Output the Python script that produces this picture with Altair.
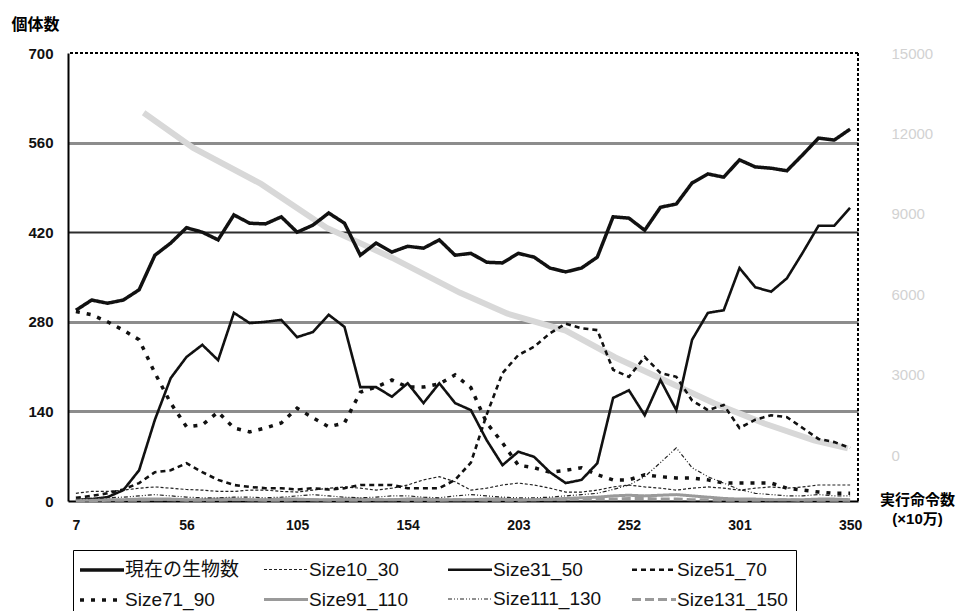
import altair as alt
import pandas as pd

# Execution step (x 10^5 instructions), one sample every 7 units
steps = list(range(7, 351, 7))

series_names = [
    "現在の生物数", "Size10_30", "Size31_50", "Size51_70",
    "Size71_90", "Size91_110", "Size111_130", "Size131_150",
]

total_count = [298, 314, 309, 314, 330, 384, 403, 427, 420, 408,
               447, 434, 433, 444, 420, 431, 450, 434, 384, 403,
               389, 398, 395, 408, 384, 387, 373, 372, 387, 381,
               364, 358, 364, 381, 444, 442, 423, 459, 464, 497,
               511, 506, 533, 522, 520, 516, 541, 567, 564, 581]
size10_30 = [12, 15, 15, 17, 20, 22, 20, 18, 17, 15,
             15, 17, 17, 15, 14, 17, 20, 22, 20, 17,
             20, 25, 33, 38, 30, 17, 20, 25, 28, 25,
             20, 14, 14, 17, 22, 25, 22, 20, 17, 20,
             22, 20, 17, 20, 22, 20, 22, 25, 25, 25]
size31_50 = [2, 3, 6, 17, 48, 127, 192, 225, 244, 220,
             294, 278, 280, 283, 256, 264, 291, 272, 178, 178,
             163, 184, 153, 184, 153, 142, 95, 56, 77, 69,
             45, 28, 33, 59, 161, 173, 134, 189, 142, 252,
             294, 298, 364, 334, 327, 348, 388, 430, 430, 458]
size51_70 = [5, 8, 12, 18, 28, 45, 48, 59, 45, 33,
             25, 22, 20, 20, 18, 20, 18, 20, 25, 25,
             25, 20, 20, 20, 33, 60, 135, 200, 228, 241,
             262, 277, 270, 267, 205, 194, 225, 200, 194, 157,
             142, 150, 114, 127, 134, 131, 114, 97, 92, 83]
size71_90 = [296, 291, 280, 267, 252, 200, 153, 116, 119, 139,
             114, 108, 114, 122, 145, 130, 116, 122, 170, 178,
             189, 178, 178, 183, 197, 177, 122, 91, 56, 52,
             45, 48, 52, 41, 33, 33, 41, 38, 36, 36,
             33, 28, 28, 28, 28, 20, 17, 14, 12, 12]
size91_110 = [1, 1, 2, 2, 3, 3, 3, 2, 2, 3,
              3, 2, 2, 3, 3, 2, 2, 3, 3, 2,
              2, 3, 3, 2, 2, 2, 3, 3, 2, 2,
              3, 4, 5, 6, 8, 9, 8, 9, 10, 8,
              6, 4, 3, 3, 2, 2, 2, 3, 3, 2]
size111_130 = [3, 4, 5, 6, 8, 10, 8, 6, 5, 5,
               6, 6, 5, 6, 8, 10, 8, 6, 5, 6,
               8, 8, 6, 5, 8, 10, 8, 6, 5, 5,
               6, 8, 10, 12, 18, 25, 38, 60, 83, 52,
               38, 28, 18, 12, 10, 8, 8, 10, 8, 8]
size131_150 = [0, 0, 1, 1, 1, 2, 2, 1, 1, 1,
               2, 2, 1, 1, 2, 2, 1, 1, 1, 2,
               2, 1, 1, 1, 2, 2, 1, 1, 1, 2,
               2, 2, 3, 3, 3, 4, 4, 3, 3, 2,
               2, 1, 1, 1, 2, 2, 1, 1, 1, 1]

# Faint secondary series on the right-hand scale
secondary_steps = [37, 59, 89, 118, 147, 177, 198, 224, 246, 268, 290, 312, 334, 349]
secondary_values = [12770, 11460, 10120, 8490, 7370, 6070, 5290, 4650,
                    3650, 2790, 1935, 1190, 560, 260]

left_ticks = [0, 140, 280, 420, 560, 700]
right_ticks = [0, 3000, 6000, 9000, 12000, 15000]
x_ticks = [7, 56, 105, 154, 203, 252, 301, 350]

all_values = [total_count, size10_30, size31_50, size51_70,
              size71_90, size91_110, size111_130, size131_150]
rows = []
for name, vals in zip(series_names, all_values):
    for s, v in zip(steps, vals):
        rows.append({"step": s, "series": name, "count": v})
df = pd.DataFrame(rows)

sec_df = pd.DataFrame({"step": secondary_steps, "value": secondary_values})

line_colors = ["#111111", "#222222", "#111111", "#111111",
               "#111111", "#9a9a9a", "#222222", "#9a9a9a"]
line_dashes = [[1, 0], [3, 2], [1, 0], [5, 4],
               [4, 7], [1, 0], [4, 2, 1, 2, 1, 2], [9, 4]]
line_widths = [3.5, 1.2, 2.6, 2.6, 3.5, 3, 1.2, 3]

FONT = "Liberation Sans, Noto Sans CJK JP, sans-serif"
x_scale = alt.Scale(domain=[3.5, 353.5], nice=False, zero=False)
y_scale = alt.Scale(domain=[0, 700], nice=False)

# Wide, short line symbols so that legend rows stay compact
legend = alt.Legend(
    title=None, orient="none", legendX=5, legendY=497,
    direction="horizontal", columns=4, gridAlign="all",
    symbolType="M-2.2,0L2.2,0", symbolSize=400, symbolOffset=9,
    labelFontSize=19, labelFont=FONT, labelColor="#111111",
    labelOffset=11, labelLimit=0, columnPadding=18, rowPadding=8,
    padding=8, strokeColor="black", fillColor="white",
)

x_axis = alt.Axis(
    values=x_ticks, format="d", grid=False, ticks=False, tickSize=0,
    labelPadding=17, labelFontSize=14, labelFontWeight="bold", labelFont=FONT,
    labelColor="#111111", domainColor="black", domainWidth=2,
    title=["実行命令数", "(×10万)"], titleX=849, titleY=-9,
    titleAlign="center", titleBaseline="top", titleFontSize=15,
    titleFontWeight="bold", titleFont=FONT, titleLineHeight=19,
)

y_axis = alt.Axis(
    values=left_ticks, grid=True, ticks=False, tickSize=0,
    labelPadding=15, labelFontSize=15, labelFontWeight="bold", labelFont=FONT,
    labelColor="#111111", domainColor="black", domainWidth=2,
    gridColor={"condition": {"test": "datum.value == 420", "value": "#2e2e2e"},
               "value": "#8c8c8c"},
    gridWidth={"condition": {"test": "datum.value == 420", "value": 2},
               "value": 3},
    gridOpacity={"condition": {"test": "datum.value == 0 || datum.value == 700",
                               "value": 0}, "value": 1},
    title="個体数", titleAngle=0, titleX=-57, titleY=-29, titleAlign="left",
    titleBaseline="middle", titleFontSize=16, titleFontWeight="bold",
    titleFont=FONT,
)

secondary = alt.Chart(sec_df).mark_line(
    color="#d8d8d8", strokeWidth=6
).encode(
    x=alt.X("step:Q", scale=x_scale, axis=x_axis),
    y=alt.Y("value:Q", scale=alt.Scale(domain=[-1700, 15000], nice=False),
            axis=alt.Axis(orient="right", values=right_ticks, format="d",
                          grid=False, ticks=False, domain=False, labelPadding=33,
                          labelFontSize=15, labelFont=FONT,
                          labelColor="#d2d2d2", title=None)),
)

lines = alt.Chart(df).mark_line().encode(
    x=alt.X("step:Q", scale=x_scale, axis=x_axis),
    y=alt.Y("count:Q", scale=y_scale, axis=y_axis),
    color=alt.Color("series:N",
                    scale=alt.Scale(domain=series_names, range=line_colors),
                    legend=legend),
    strokeDash=alt.StrokeDash("series:N",
                              scale=alt.Scale(domain=series_names, range=line_dashes),
                              legend=legend),
    strokeWidth=alt.StrokeWidth("series:N",
                                scale=alt.Scale(type="ordinal", domain=series_names,
                                                range=line_widths),
                                legend=legend),
)

top_border = alt.Chart(df).mark_rule(
    color="black", strokeWidth=1.5, strokeDash=[3, 2]
).encode(y=alt.datum(700, scale=y_scale))

right_border = alt.Chart(df).mark_rule(
    color="black", strokeWidth=1.5, strokeDash=[3, 2]
).encode(x=alt.datum(353.5, scale=x_scale))

left_layers = alt.layer(lines, top_border, right_border)

chart = alt.layer(secondary, left_layers).resolve_scale(
    y="independent"
).properties(
    width=790, height=448,
    padding={"left": 68, "top": 53, "right": 108, "bottom": 110},
    autosize=alt.AutoSizeParams(type="none"),
    background="white",
).configure_view(stroke=None)

chart.save("out.html", embed_options={"renderer": "svg", "actions": False})
